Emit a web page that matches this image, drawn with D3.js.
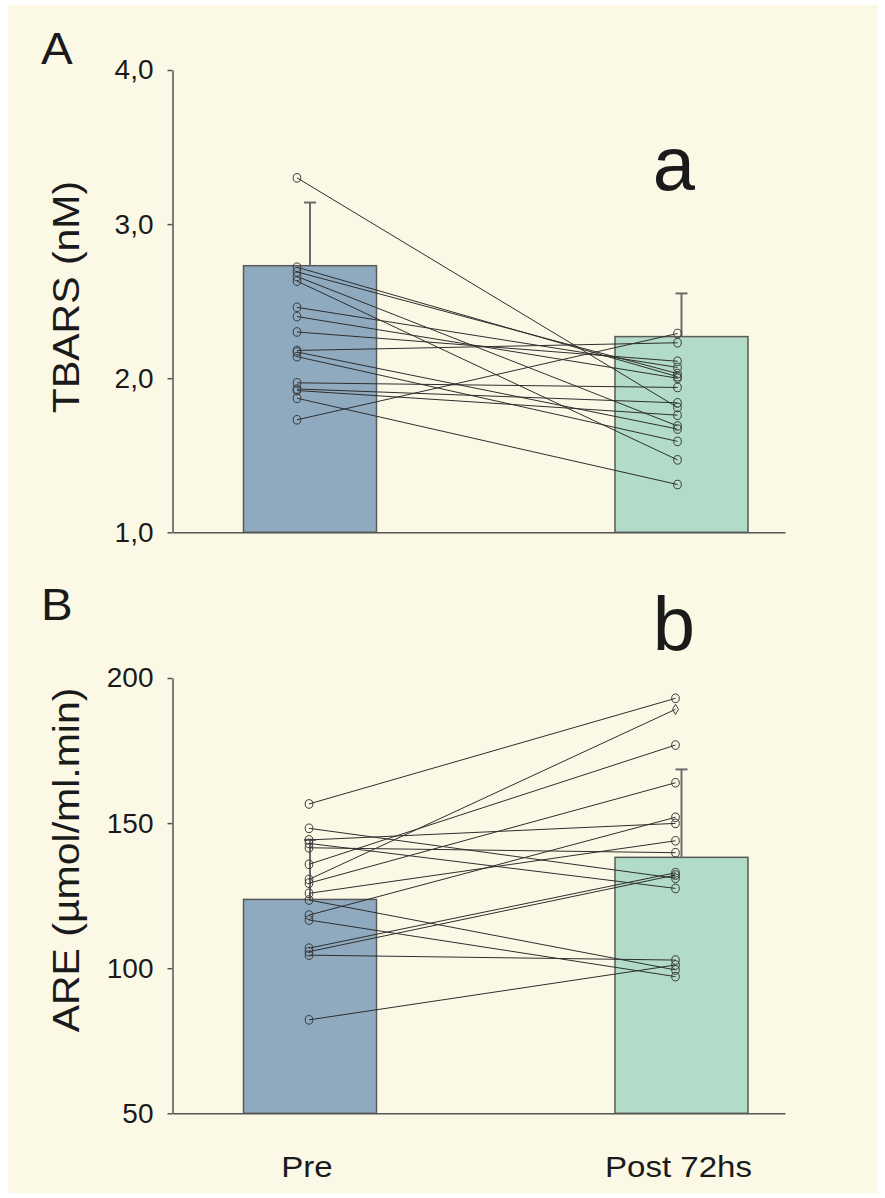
<!DOCTYPE html>
<html>
<head>
<meta charset="utf-8">
<script src="https://cdn.jsdelivr.net/npm/d3@7"></script>
<style>
  body { margin: 0; background: #ffffff; }
  svg { display: block; }
  text { font-family: "Liberation Sans", Arial, sans-serif; fill: #1a1a1a; }
</style>
</head>
<body>
<svg id="chart" width="885" height="1198"></svg>
<script>
// ---- data ----
const groups = ["Pre", "Post 72hs"];

// Panel A: TBARS (nM)
const tbarsMean = [2.73, 2.27];
const tbarsErr = [0.41, 0.28];
const tbarsPre  = [3.30, 2.72, 2.69, 2.66, 2.63, 2.46, 2.40, 2.30, 2.18, 2.17, 2.14, 1.97, 1.93, 1.92, 1.87, 1.73];
const tbarsPost = [1.81, 2.01, 2.03, 1.69, 1.47, 2.07, 2.00, 2.11, 2.23, 1.67, 1.59, 1.94, 1.84, 1.76, 1.31, 2.29];
const tbarsTicks = [1, 2, 3, 4];

// Panel B: ARE (µmol/ml.min)
const areMean = [123.7, 138.2];
const areErr = [20.5, 30.3];
const arePre  = [156.6, 148.2, 144.2, 143.0, 141.5, 135.8, 130.6, 129.3, 125.8, 123.5, 118.3, 116.6, 106.9, 105.7, 104.5, 82.2];
const arePost = [193.0, 131.0, 149.9, 127.5, 139.8, 176.9, 189.2, 163.9, 143.9, 99.4, 152.0, 97.1, 132.9, 132.1, 102.8, 101.1];
const areDiamond = [6]; // subject whose post value is plotted as a diamond
const areTicks = [50, 100, 150, 200];

// ---- layout ----
const svg = d3.select("#chart");
const barColors = ["#8fa9bf", "#b2dcc8"];
const axisX = 172.5, axisEnd = 785;
const barW = 133;

svg.append("rect")
  .attr("x", 8).attr("y", 5).attr("width", 870).attr("height", 1188)
  .attr("fill", "#fbf9e6");

const x = d3.scalePoint().domain(groups).range([310, 681.5]);

function panel(opts) {
  const y = d3.scaleLinear().domain(opts.domain).range([opts.bottom, opts.top]);
  const g = svg.append("g");

  // bars
  g.selectAll("rect.bar").data(groups).join("rect")
    .attr("class", "bar")
    .attr("x", d => x(d) - barW / 2)
    .attr("width", barW)
    .attr("y", (d, i) => y(opts.mean[i]))
    .attr("height", (d, i) => y(opts.domain[0]) - y(opts.mean[i]))
    .attr("fill", (d, i) => barColors[i])
    .attr("stroke", "#5a5a5a").attr("stroke-width", 1.5);

  // upper error bars
  const eb = g.selectAll("g.err").data(groups).join("g").attr("class", "err");
  eb.append("line")
    .attr("x1", d => x(d)).attr("x2", d => x(d))
    .attr("y1", (d, i) => y(opts.mean[i])).attr("y2", (d, i) => y(opts.mean[i] + opts.err[i]))
    .attr("stroke", "#6a6a6a").attr("stroke-width", 2);
  eb.append("line")
    .attr("x1", d => x(d) - 6).attr("x2", d => x(d) + 6)
    .attr("y1", (d, i) => y(opts.mean[i] + opts.err[i])).attr("y2", (d, i) => y(opts.mean[i] + opts.err[i]))
    .attr("stroke", "#6a6a6a").attr("stroke-width", 2);

  // paired subject lines
  const xPre = x(groups[0]) + opts.dxPre, xPost = x(groups[1]) + opts.dxPost;
  const pairs = opts.pre.map((v, i) => ({ i, pre: v, post: opts.post[i] }));
  g.selectAll("line.pair").data(pairs).join("line")
    .attr("class", "pair")
    .attr("x1", xPre).attr("y1", d => y(d.pre))
    .attr("x2", xPost).attr("y2", d => y(d.post))
    .attr("stroke", "#2e2e2e").attr("stroke-width", 1);

  // markers
  g.selectAll("ellipse.pre").data(pairs).join("ellipse")
    .attr("class", "pre")
    .attr("cx", xPre).attr("cy", d => y(d.pre))
    .attr("rx", 3.8).attr("ry", 4.3)
    .attr("fill", "none").attr("stroke", "#3a3a3a").attr("stroke-width", 1);
  const diamonds = opts.diamond || [];
  g.selectAll("ellipse.post").data(pairs.filter(d => !diamonds.includes(d.i))).join("ellipse")
    .attr("class", "post")
    .attr("cx", xPost).attr("cy", d => y(d.post))
    .attr("rx", 3.8).attr("ry", 4.3)
    .attr("fill", "none").attr("stroke", "#3a3a3a").attr("stroke-width", 1);
  g.selectAll("path.diamond").data(pairs.filter(d => diamonds.includes(d.i))).join("path")
    .attr("class", "diamond")
    .attr("transform", d => `translate(${xPost},${y(d.post)})`)
    .attr("d", d3.symbol(d3.symbolDiamond, 30))
    .attr("fill", "none").attr("stroke", "#3a3a3a").attr("stroke-width", 1);

  // y axis
  const ya = g.append("g").attr("transform", `translate(${axisX},0)`)
    .call(d3.axisLeft(y).tickValues(opts.ticks).tickSize(5).tickSizeOuter(0)
      .tickPadding(14).tickFormat(opts.fmt));
  ya.select(".domain").attr("stroke", "#555").attr("stroke-width", 1.5);
  ya.selectAll(".tick line").attr("stroke", "#555").attr("stroke-width", 1.5);
  ya.selectAll(".tick text").style("font-size", "28px").attr("fill", "#1a1a1a")
    .style("font-family", "'Liberation Sans', Arial, sans-serif");

  // x axis baseline
  const xl = d3.scaleLinear().domain([0, 1]).range([axisX, axisEnd]);
  const xa = g.append("g").attr("transform", `translate(0,${opts.bottom})`)
    .call(d3.axisBottom(xl).tickValues([]).tickSizeOuter(0));
  xa.select(".domain").attr("stroke", "#555").attr("stroke-width", 1.5);

  // axis title (slightly condensed glyph height)
  g.append("text")
    .attr("transform", `translate(${opts.titleX},${opts.titleY}) rotate(-90) scale(1,0.88)`)
    .attr("text-anchor", "middle")
    .style("font-size", "41px")
    .text(opts.title);

  // panel letter and significance letter
  g.append("text").attr("transform", `translate(41,${opts.letterY}) scale(1.08,1)`)
    .style("font-size", "44px").text(opts.letter);
  g.append("text").attr("x", 674).attr("y", opts.sigY).attr("text-anchor", "middle")
    .style("font-size", "76px").text(opts.sig);
  return y;
}

panel({
  domain: [1, 4], top: 70, bottom: 532.3,
  mean: tbarsMean, err: tbarsErr, pre: tbarsPre, post: tbarsPost,
  ticks: tbarsTicks, fmt: d => d.toFixed(1).replace(".", ","),
  dxPre: -13, dxPost: -4,
  title: "TBARS (nM)", titleX: 79, titleY: 297,
  letter: "A", letterY: 64, sig: "a", sigY: 190
});

panel({
  domain: [50, 200], top: 678, bottom: 1113.3,
  mean: areMean, err: areErr, pre: arePre, post: arePost, diamond: areDiamond,
  ticks: areTicks, fmt: d3.format("d"),
  dxPre: -1, dxPost: -6,
  title: "ARE (µmol/ml.min)", titleX: 79, titleY: 860,
  letter: "B", letterY: 620, sig: "b", sigY: 650
});

// group labels (slightly widened)
svg.selectAll("text.cat").data(groups).join("text")
  .attr("class", "cat")
  .attr("transform", d => `translate(${x(d) - 3},1177) scale(1.14,1)`)
  .attr("text-anchor", "middle")
  .style("font-size", "29px")
  .text(d => d);
</script>
</body>
</html>
